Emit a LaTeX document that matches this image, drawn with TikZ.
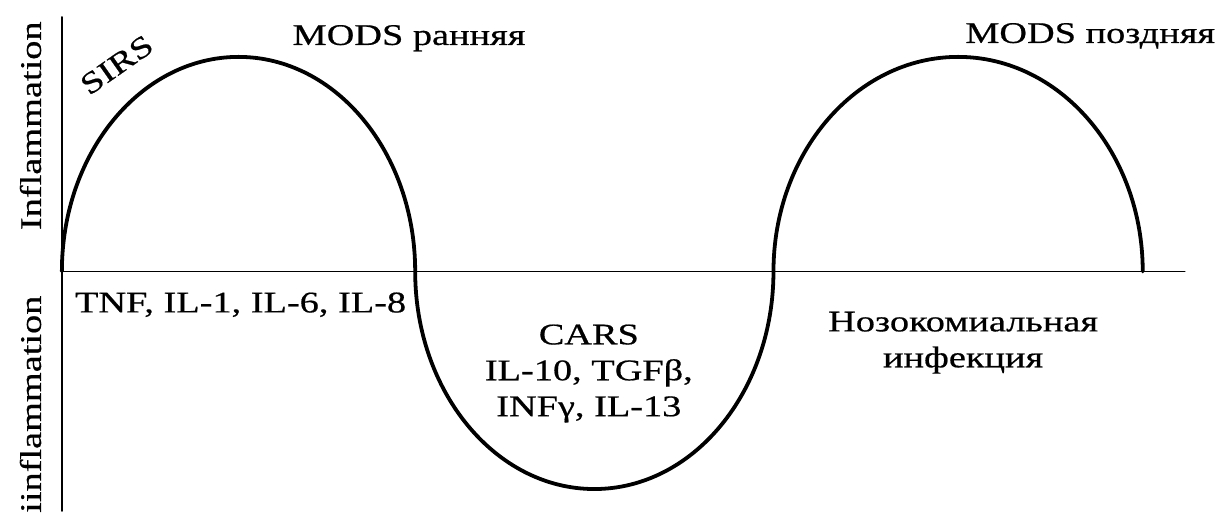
\documentclass[tikz,border=0pt]{standalone}
\usepackage{fontspec}
\setmainfont{Liberation Serif}[FakeStretch=1.28,FakeBold=0.6]
\usetikzlibrary{positioning}

\begin{document}
\begin{tikzpicture}[x=1pt,y=-1pt,line cap=round,line join=round]
\path[fill=white] (0,0) rectangle (1215,512);
\tikzset{axis/.style={draw=black,line width=1.8pt},wave/.style={draw=black,line width=3.8pt},lbl/.style={font=\fontsize{30}{36}\selectfont,text=black,inner sep=0pt},side/.style={lbl,rotate=90}}
% axes
\draw[axis] (62,17) -- (62,512);
\draw[axis] (62,272) -- (1187,272);
% inflammation waves
\draw[wave] (62,272) arc[start angle=180,end angle=360,x radius=177,y radius=215];
\draw[wave] (416,272) arc[start angle=180,end angle=0,x radius=179.5,y radius=218];
\draw[wave] (775,272) arc[start angle=180,end angle=360,x radius=185,y radius=215];
% labels
\node[side,anchor=base] (infl) at (41,126) {Inflammation};
\node[side,anchor=base west] (anti) at (41,514) {iinflammation};
\node[lbl,rotate=35] (sirs) at (117,65) {SIRS};
\node[lbl,anchor=base west] (early) at (293,45) {MODS ранняя};
\node[lbl,anchor=base west] (late) at (967,43) {MODS поздняя};
\node[lbl,anchor=base west] (tnf) at (75,313) {TNF, IL-1, IL-6, IL-8};
\node[lbl,anchor=base] (cars) at (590,345) {CARS};
\node[lbl,anchor=base] (carsa) at (590,381) {IL-10, TGFβ,};
\node[lbl,anchor=base] (carsb) at (590,417) {INFγ, IL-13};
\node[lbl,anchor=base] (noso) at (965,332) {Нозокомиальная};
\node[lbl,anchor=base] (nosob) at (965,368) {инфекция};
\end{tikzpicture}
\end{document}
